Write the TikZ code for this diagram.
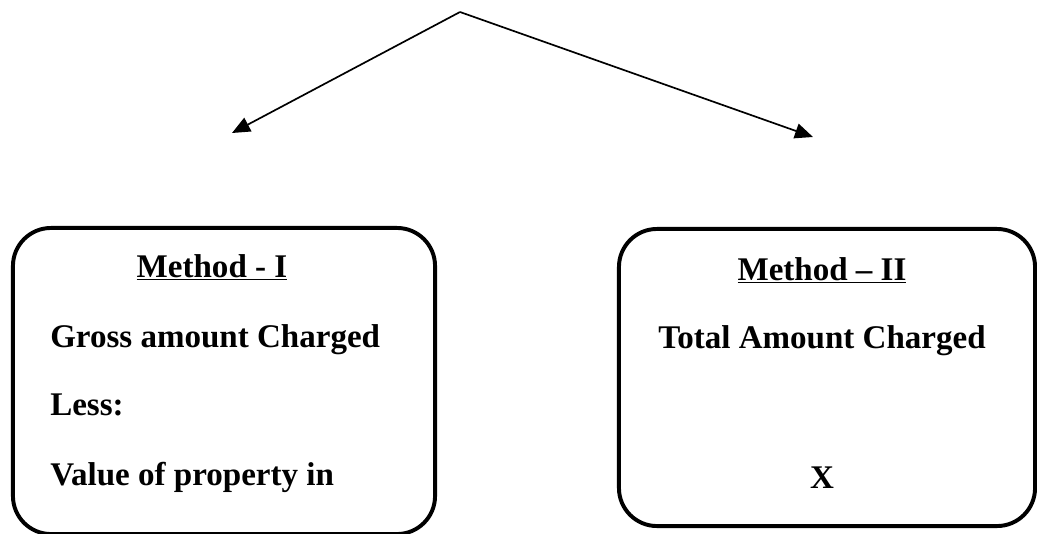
\documentclass[tikz,border=0pt]{standalone}
\usepackage{fontspec}
\setmainfont{Liberation Serif}
\usetikzlibrary{arrows.meta}

\begin{document}
\begin{tikzpicture}[x=0.025cm,y=-0.025cm,>={Triangle[length=0.45cm,width=0.38cm]},
	box/.style = {draw,line width=2.8pt,rounded corners=0.95cm,inner sep=0pt},
	txt/.style = {inner sep=0pt,font=\fontsize{23.5}{28}\selectfont\bfseries}
	]
	\useasboundingbox (0,0) rectangle (1037,533);
	%FRECCE
	\coordinate (top) at (460,12);
	\coordinate (sx) at (232,133);
	\coordinate (dx) at (813,137);
	\draw[->,line width=1.2pt] (top) -- (sx);
	\draw[->,line width=1.2pt] (top) -- (dx);
	%RIQUADRI
	\node[box,minimum width=10.55cm,minimum height=7.65cm] (m1) at (224,381) {};
	\node[box,minimum width=10.4cm,minimum height=7.425cm] (m2) at (827,377.5) {};
	%METODO I
	\node[txt,anchor=base] (t1) at (212,277) {\underline{Method - I}};
	\node[txt,anchor=base west] (gross) at (50,347) {Gross amount Charged};
	\node[txt,anchor=base west] (less) at (50,415) {Less:};
	\node[txt,anchor=base west] (value) at (50,485) {Value of property in};
	%METODO II
	\node[txt,anchor=base] (t2) at (822,280) {\underline{Method – II}};
	\node[txt,anchor=base] (total) at (822,348) {Total Amount Charged};
	\node[txt,anchor=base] (x) at (822,488) {X};
\end{tikzpicture}
\end{document}
